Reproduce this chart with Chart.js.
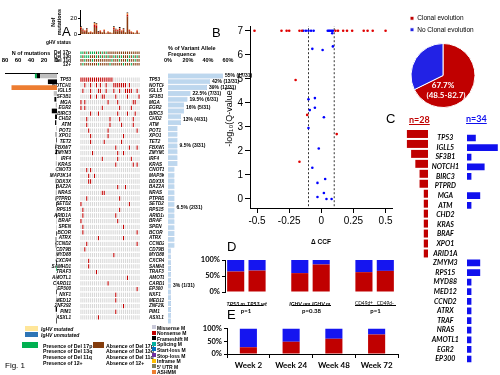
<!DOCTYPE html>
<html><head><meta charset="utf-8">
<script src="https://cdn.jsdelivr.net/npm/chart.js@4.4.0/dist/chart.umd.min.js"></script>
<style>
html,body{margin:0;padding:0;background:#fff;}
#root{position:relative;width:500px;height:375px;overflow:hidden;font-family:"Liberation Sans",Arial,sans-serif;}
canvas{position:absolute;}
.t{position:absolute;white-space:nowrap;color:#000;line-height:1;}
.b{position:absolute;}
</style></head><body><div id="root"></div>
<script>
// ---------------- DATA ----------------
const patientIds = ['P1','P2','P3','P4','P5','P6','P7','P8','P9','P10','P11','P12','P13','P14','P15','P16','P17','P18','P19','P20','P21','P22','P23','P24','P25','P26','P27','P28','P29','P30','P31'];
// mutations per patient (stacked by colour class)
const topBrown  = [6,4,3,5,2,2,2,9,8,2,3,2,4,1,2,2,1,6,4,4,5,3,5,2,22,4,2,2,1,3,1];
const topRed    = [2,1,1,1,0,1,0,3,3,1,1,0,1,0,1,0,0,2,1,1,2,1,1,0,2,1,1,0,0,1,0];
const topOrange = [1,1,1,1,1,1,1,2,2,0,1,1,1,1,1,1,1,1,1,1,1,1,1,1,2,1,1,1,1,1,1];
const topBlack  = [1,1,0,1,0,0,0,1,1,1,0,0,0,0,0,0,0,1,1,0,1,0,1,0,1,0,0,0,0,0,0];
// IGHV status: U = unmutated, M = mutated
const ighv = ['U','U','M','U','M','U','U','U','U','U','U','U','U','U','U','U','U','U','U','U','M','M','U','U','M','U','U','M','U','U','U'];
const delLabels = ['Del 17p','Del 13q','Del 11q','12+'];
const del17p = [1,1,0,1,0,1,1,1,0,1,0,1,0,1,0,0,0,0,0,0,0,0,0,0,0,0,0,0,0,0,0];
const del13q = [1,0,1,1,1,0,0,0,1,0,1,0,1,0,1,0,0,1,0,1,0,1,0,0,0,1,0,1,0,1,0];
const del11q = [0,0,1,0,0,0,1,0,0,0,0,0,0,0,0,0,1,0,0,0,1,0,0,0,1,0,0,0,1,0,0];
const tri12  = [0,1,0,0,0,0,0,0,0,1,0,0,0,0,0,1,0,0,0,0,0,0,1,0,0,0,1,0,0,0,0];
const genes = ['TP53','NOTCH1','IGLL5','SF3B1','MGA','EGR2','BIRC3','CHD2','ATM','POT1','XPO1','TET2','FBXW7','ZMYM3','IRF4','KRAS','CNOT3','MAP3K14','DDX3X','BAZ2A','NRAS','PTPRD','SETD2','RPS15','ARID1A','BRAF','SPEN','BCOR','ATRX','CCND2','CD79B','MYD88','CXCR4','SAMHD1','TRAF3','AMOTL1','CARD11','EP300','NXF1','MED12','ZNF292','PIM1','ASXL1'];
// mutated patient columns per gene
const mutCols = [
 [0,1,2,3,4,5,6,7,8,9,10,11,12,13,14,15,16],
 [17,18,19,20,21,22,23,2,5,8,10,13,25],
 [1,5,9,10,13,17,20,23,24,25,26,29],
 [5,8,11,12,18,24,30],
 [0,2,14,19,27,28],
 [0,2,11,20,26],
 [5,9,19,24,28],
 [3,15,20,27],
 [3,15,21,27],
 [4,14,29],[5,14,22],[5,12,21],[18,25,29],[6,19,22],[11,19,26],[18,27,29],
 [3,5],[4,7],[4,5],[19,23],[11,12],[3,20],[0,25],[1,20],[1,18],[0,19],[1,22],[1,29],[9,22],[3,29],
 [2],[17],[4],[4],[8],[24],[14],[29],[18],[18],[22],[18],[9]
];
// number of mutations per gene by type
const nMissense = [26,0,0,5,1,2,0,0,1,1, 1,0,1,0,1,2,1,1,1,0, 2,1,0,1,0,1,1,0,1,1, 1,1,0,0,1,1,1,0,1,1, 0,1,0];
const nTrunc    = [5,14,0,0,3,0,8,3,2,0, 1,1,1,2,0,0,0,0,1,1, 0,1,1,0,1,0,0,1,1,1, 0,0,1,0,0,0,0,1,0,0, 2,0,1];
const nSplice   = [3,0,0,0,0,0,0,0,0,0, 0,0,0,0,0,0,0,0,0,0, 0,0,0,0,0,0,0,0,0,0, 0,0,0,1,0,0,0,0,0,0, 0,0,0];
const nASHM     = [0,0,70,0,0,0,0,0,0,0, 0,0,0,0,0,0,0,0,0,0, 0,0,0,0,0,0,0,0,0,0, 0,0,0,0,0,0,0,0,0,0, 0,0,0];
const mutTicks = [0,20,40,60,80];
// variant allele frequency (%) per gene
const vaf = [55,42,39,22.5,19.5,16,16,13,13, 9.5,9.5,9.5,9.5,9.5,9.5,9.5, 6.5,6.5,6.5,6.5,6.5,6.5,6.5,6.5,6.5,6.5,6.5,6.5,6.5,6.5, 3,3,3,3,3,3,3,3,3,3,3,3,3];
const vafTicks = [0,20,40,60];
const vafLabelRows = [0,1,2,3,4,5.5,7.5,12,22.5,36];
const vafLabels = ['55% (17/31)','42% (13/31)','39% (12/31)','22.5% (7/31)','19.5% (6/31)','16% (5/31)','13% (4/31)','9.5% (3/31)','6.5% (2/31)','3% (1/31)'];
// Panel B
const clonalX = [-0.52,-0.31,-0.27,-0.25,-0.17,-0.15,0.11,0.13,0.17,0.2,0.24,0.33,0.36,0.4,0.5,-0.2,-0.11,0.12,-0.17];
const clonalY = [7,7,7,7,7,7,7,7,7,7,7,7,7,7,7,4.95,3.5,2.7,1.55];
const noClonalX = [-0.14,-0.12,-0.1,-0.08,-0.06,0.05,0.06,0.07,0.08,0.09,0.085,-0.07,0.01,0.09,-0.1,-0.05,-0.09,-0.05,0.02,-0.1,-0.02,-0.07,-0.03,0.03,0.02,-0.03,0.04,0.08];
const noClonalY = [7,7,7,7,7,7,7,7,7,7,6.9,6.25,6.2,6.35,4.15,4.2,3.7,3.8,3.4,2.95,2.1,1.3,0.67,0.83,0.25,0.08,0,0];
const cutoffs = [-0.1,0.1];
const cutoffSpan = [-0.3,7.25];
const bXTicks = [-0.5,-0.25,0,0.25,0.5];
const bYTicks = [0,1,2,3,4,5,6,7];
// Pie
const pieLabels = ['Clonal evolution','No Clonal evolution'];
const pieValues = [67.7,32.3];
const pieText = ['67.7%','(48.5-82.7)'];
// Panel C
const cGenes = ['TP53','IGLL5','SF3B1','NOTCH1','BIRC3','PTPRD','MGA','ATM','CHD2','KRAS','BRAF','XPO1','ARID1A','ZMYM3','RPS15','MYD88','MED12','CCND2','ATRX','TRAF','NRAS','AMOTL1','EGR2','EP300'];
const clonalCounts   = [5,5,4,3,2,2,1,1,1,1,1,1,1,0,0,0,0,0,0,0,0,0,0,0];
const noClonalCounts = [2,7,1,4,1,0,3,1,0,0,0,0,0,3,3,1,1,1,1,1,1,1,1,1];
// Panel D
const dLabels = ['TP53 m','TP53 wt','','IGHV um','IGHV m','','CD49d+','CD49d-'];
const dRed  = [64,67,null,59,86,null,62,66];
const dBlue = [36,33,null,41,14,null,38,34];
const dPvals = ['p=1','p=0.38','p=1'];
// Panel E
const eLabels = ['Week 2','Week 24','Week 48','Week 72'];
const eRed  = [26,48,60,76];
const eBlue = [74,52,40,24];
const pctTicks = [0,50,100];

// ---------------- HELPERS ----------------
const RED='#C00000', BLUE='#1515F0', GRAY='#D9D9D9';
Chart.defaults.font.family = "'Liberation Sans', Arial, sans-serif";
Chart.defaults.color = '#000';
Chart.defaults.animation = false;
Chart.defaults.events = [];
Chart.defaults.plugins.legend.display = false;
Chart.defaults.plugins.tooltip.enabled = false;
const root = document.getElementById('root');
function mk(x,y,w,h,cfg){
  const c=document.createElement('canvas');
  c.width=w;c.height=h;c.style.left=x+'px';c.style.top=y+'px';c.style.width=w+'px';c.style.height=h+'px';
  root.appendChild(c);
  cfg.options=Object.assign({responsive:false,maintainAspectRatio:false,devicePixelRatio:1},cfg.options||{});
  return new Chart(c,cfg);
}
function txt(s,x,y,css){const d=document.createElement('div');d.className='t';d.textContent=s;d.style.left=x+'px';d.style.top=y+'px';if(css)d.style.cssText+=css;root.appendChild(d);return d;}
function box(x,y,w,h,css){const d=document.createElement('div');d.className='b';d.style.left=x+'px';d.style.top=y+'px';d.style.width=w+'px';d.style.height=h+'px';d.style.cssText+=css;root.appendChild(d);return d;}
const tickList = arr => (s=>{s.ticks=arr.map(v=>({value:v}));});
function gridSets(rows,colorFn){
  return patientIds.map((pid,p)=>({label:pid,data:rows.map(()=>1),backgroundColor:rows.map((r,ri)=>colorFn(ri,p)),borderColor:'#fff',borderWidth:0.4,borderSkipped:false,barPercentage:1,categoryPercentage:0.9}));
}
const geneFont={size:4.6,weight:'bold',style:'italic'};

// ---------------- PANEL A ----------------
// top: mutations per patient
mk(50,0,91,39,{type:'bar',data:{labels:patientIds,datasets:[
  {data:topBrown,backgroundColor:'#8B3A0F'},{data:topRed,backgroundColor:RED},
  {data:topOrange,backgroundColor:'#ED7D31'},{data:topBlack,backgroundColor:'#000'}]},
 options:{layout:{padding:{top:10,bottom:1,right:1,left:0}},datasets:{bar:{barPercentage:0.8,categoryPercentage:1}},
  scales:{x:{stacked:true,display:false},
   y:{stacked:true,min:0,max:30,afterFit:s=>{s.width=30;},afterBuildTicks:tickList([0,10,20,30]),
      ticks:{font:{size:6},padding:1},grid:{display:true,drawOnChartArea:false,tickLength:2,color:'#000'},border:{color:'#000'},
      title:{display:true,text:['Nof','mutations'],font:{size:5.5,weight:'bold'},padding:0}}}}});
// IGHV row
mk(46,39,94,7,{type:'bar',data:{labels:['IgHV status'],datasets:gridSets(['IgHV status'],(r,p)=>ighv[p]==='U'?'#2E75B6':'#FFE699')},
 options:{indexAxis:'y',layout:{padding:0},scales:{x:{stacked:true,min:0,max:31,display:false},
  y:{stacked:true,afterFit:s=>{s.width=34;},ticks:{font:{size:4.8,weight:'bold'},padding:1,autoSkip:false},grid:{display:false},border:{display:false}}}}});
// deletion rows
const delRows=[del17p,del13q,del11q,tri12];
mk(46,47,94,23,{type:'bar',data:{labels:delLabels,datasets:gridSets(delLabels,(r,p)=>delRows[r][p]?'#00B050':'#843C0C')},
 options:{indexAxis:'y',layout:{padding:0},scales:{x:{stacked:true,min:0,max:31,display:false},
  y:{stacked:true,afterFit:s=>{s.width=34;},ticks:{font:{size:4.8,weight:'bold'},padding:1,autoSkip:false},grid:{display:false},border:{display:false}}}}});
// gene matrix
mk(46,73,118,251,{type:'bar',data:{labels:genes,datasets:gridSets(genes,(r,p)=>mutCols[r].includes(p)?RED:GRAY)},
 options:{indexAxis:'y',layout:{padding:0},scales:{x:{stacked:true,min:0,max:31,display:false},
  y:{stacked:true,afterFit:s=>{s.width=34;},ticks:{font:geneFont,padding:1,autoSkip:false},grid:{display:false},border:{display:false}},
  yR:{type:'category',labels:genes,position:'right',afterFit:s=>{s.width=24;},ticks:{font:geneFont,padding:1,autoSkip:false},grid:{display:false},border:{display:false}}}}});
// left: number of mutations per gene
mk(0,50,58,274,{type:'bar',data:{labels:genes,datasets:[
  {data:nMissense,backgroundColor:'#BFBFBF'},{data:nTrunc,backgroundColor:'#000'},
  {data:nSplice,backgroundColor:'#00B050'},{data:nASHM,backgroundColor:'#ED7D31'}]},
 options:{indexAxis:'y',layout:{padding:{left:5,right:1}},datasets:{bar:{barPercentage:0.8,categoryPercentage:1}},
  scales:{x:{stacked:true,position:'top',reverse:true,min:0,max:80,afterFit:s=>{s.height=23;},afterBuildTicks:tickList(mutTicks),
    ticks:{font:{size:6,weight:'bold'},padding:1,maxRotation:0},grid:{display:false},border:{color:'#000'},
    title:{display:true,text:'N of mutations',font:{size:5.5,weight:'bold'},padding:{top:0,bottom:2}}},
   y:{stacked:true,display:false}}}});
// right: VAF
const vafLabelPlugin={id:'vafLbl',afterDatasetsDraw(ch){const {ctx,scales:{x,y}}=ch;ctx.save();ctx.font='bold 5px "Liberation Sans"';ctx.fillStyle='#000';ctx.textBaseline='middle';
  vafLabelRows.forEach((r,i)=>{ctx.fillText(vafLabels[i],x.getPixelForValue(vaf[Math.floor(r)])+2,y.getPixelForValue(r));});ctx.restore();}};
mk(163,45,92,279,{type:'bar',data:{labels:genes,datasets:[{data:vaf,backgroundColor:'#BDD7EE',borderColor:'#8FB4DE',borderWidth:0.5}]},
 options:{indexAxis:'y',layout:{padding:{left:2,right:2}},datasets:{bar:{barPercentage:0.85,categoryPercentage:1}},
  scales:{x:{position:'top',min:0,max:85,afterFit:s=>{s.height=28;},afterBuildTicks:tickList(vafTicks),
    ticks:{callback:v=>v+'%',font:{size:5.5,weight:'bold'},padding:1,maxRotation:0},grid:{display:false},border:{display:false},
    title:{display:true,align:'start',text:['% of Variant Allele','Frequence'],font:{size:5.5,weight:'bold'},padding:{top:0,bottom:1}}},
   y:{display:false}}},plugins:[vafLabelPlugin]});

// ---------------- PANEL B ----------------
mk(220,15,180,235,{type:'scatter',data:{datasets:[
  {data:clonalX.map((x,i)=>({x,y:clonalY[i]})),backgroundColor:'#E00000',pointRadius:1.3,borderWidth:0},
  {data:noClonalX.map((x,i)=>({x,y:noClonalY[i]})),backgroundColor:'#0000FF',pointRadius:1.3,borderWidth:0},
  {type:'line',data:cutoffSpan.map(y=>({x:cutoffs[0],y})),borderColor:'#000',borderWidth:0.8,borderDash:[2,2],pointRadius:0},
  {type:'line',data:cutoffSpan.map(y=>({x:cutoffs[1],y})),borderColor:'#000',borderWidth:0.8,borderDash:[2,2],pointRadius:0}]},
 options:{layout:{padding:{top:11,right:8}},
  scales:{x:{type:'linear',min:-0.555,max:0.55,afterFit:s=>{s.height=42;},afterBuildTicks:tickList(bXTicks),
    ticks:{font:{size:10},callback:v=>String(v),padding:2,maxRotation:0},grid:{display:true,drawOnChartArea:false,tickLength:5,color:'#000'},border:{color:'#000'},
    title:{display:true,text:'Δ CCF',font:{size:6.5,weight:'bold'},padding:{top:0}}},
   y:{min:-0.375,max:7.2,afterFit:s=>{s.width=30;},afterBuildTicks:tickList(bYTicks),
    ticks:{font:{size:10},padding:2},grid:{display:true,drawOnChartArea:false,tickLength:5,color:'#000'},border:{color:'#000'},
    title:{display:true,text:'-log₁₀(Q-value)',font:{size:9}}}}}});

// ---------------- PIE ----------------
const pieTextPlugin={id:'pieTxt',afterDatasetsDraw(ch){const a=ch.getDatasetMeta(0).data[0];const ctx=ch.ctx;ctx.save();ctx.fillStyle='#fff';ctx.textAlign='center';ctx.textBaseline='middle';
  ctx.font='bold 8px Lato';ctx.fillText(pieText[0],a.x,a.y+10);ctx.fillText(pieText[1],a.x+3,a.y+20);ctx.restore();}};
mk(405,10,95,98,{type:'pie',data:{labels:pieLabels,datasets:[{data:pieValues,backgroundColor:[RED,'#2222E5'],borderColor:'#fff',borderWidth:1}]},
 options:{layout:{padding:{left:0,right:19,top:0,bottom:0}},plugins:{legend:{display:true,position:'top',align:'start',labels:{boxWidth:4,boxHeight:4,font:{size:6.5},padding:5}}}},
 plugins:[pieTextPlugin]});

// ---------------- PANEL C ----------------
mk(388,129,42,239,{type:'bar',data:{labels:cGenes,datasets:[{data:clonalCounts,backgroundColor:RED}]},
 options:{indexAxis:'y',layout:{padding:{left:2,right:2}},datasets:{bar:{barPercentage:0.8,categoryPercentage:1}},
  scales:{x:{reverse:true,min:0,max:9,display:false},y:{display:false}}}});
mk(428,129,72,239,{type:'bar',data:{labels:cGenes,datasets:[{data:noClonalCounts,backgroundColor:'#1010EE'}]},
 options:{indexAxis:'y',layout:{padding:0},datasets:{bar:{barPercentage:0.7,categoryPercentage:1}},
  scales:{x:{min:0,max:7.5,display:false},
   y:{afterFit:s=>{s.width=39;},ticks:{crossAlign:'center',autoSkip:false,font:{family:'Lato',size:7,weight:'bold',style:'italic'},padding:0},grid:{display:false},border:{display:false}}}}});

// ---------------- PANEL D ----------------
mk(190,252,210,62,{type:'bar',data:{labels:dLabels,datasets:[{data:dRed,backgroundColor:RED},{data:dBlue,backgroundColor:BLUE}]},
 options:{layout:{padding:{top:8,right:4,bottom:0}},datasets:{bar:{barPercentage:0.8,categoryPercentage:1}},
  scales:{x:{stacked:true,afterFit:s=>{s.height=22;},grid:{display:false},border:{display:false},
    ticks:{autoSkip:false,maxRotation:0,minRotation:0,padding:1,font:c=>({family:'Lato',size:c.index>=6?4.8:5.5,weight:c.index>=6?'normal':'bold',style:c.index>=6?'normal':'italic'})}},
   y:{stacked:true,min:0,max:100,afterFit:s=>{s.width=35;},afterBuildTicks:tickList(pctTicks),
    ticks:{callback:v=>v+'%',font:{family:'Lato',size:7.5,weight:'bold'},padding:2},grid:{display:true,drawOnChartArea:false,tickLength:3,color:'#000'},border:{color:'#000'}}}}});

// ---------------- PANEL E ----------------
mk(190,322,210,52,{type:'bar',data:{labels:eLabels,datasets:[{data:eRed,backgroundColor:RED},{data:eBlue,backgroundColor:BLUE}]},
 options:{layout:{padding:{top:6,right:2}},datasets:{bar:{barPercentage:0.4,categoryPercentage:1}},
  scales:{x:{stacked:true,afterFit:s=>{s.height=20;},grid:{display:true,drawOnChartArea:false,tickLength:4,color:'#000'},border:{color:'#000'},
    ticks:{autoSkip:false,maxRotation:0,padding:3,font:{family:'Lato',size:8,weight:'bold'}}},
   y:{stacked:true,min:0,max:100,afterFit:s=>{s.width=37;},afterBuildTicks:tickList(pctTicks),
    ticks:{callback:v=>v+'%',font:{family:'Lato',size:7.5,weight:'bold'},padding:2},grid:{display:true,drawOnChartArea:false,tickLength:3,color:'#000'},border:{color:'#000'}}}}});

// ---------------- TEXT / LEGENDS ----------------
const letterCss='font-size:13px;';
txt('A',62,25,letterCss);txt('B',212,26,letterCss);txt('C',386,112,letterCss);txt('D',227,240,letterCss);txt('E',227,308,letterCss);
txt('n=28',409,114,'font:bold 9px Lato;color:#C00000;text-decoration:underline;');
txt('n=34',466,113,'font:bold 9px Lato;color:#1010EE;text-decoration:underline;');
// D group underlines and p-values
[[229,263],[292,331],[355,396]].forEach((g,i)=>{box(g[0],305,g[1]-g[0],1,'background:#000;');
  const d=txt(dPvals[i],g[0],307,'font:bold 6px Lato;text-align:center;');d.style.width=(g[1]-g[0])+'px';});
// IGHV legend
const ighvLegend=['IgHV mutated','IgHV unmutated'];const ighvColors=['#FFE699','#2E75B6'];
ighvLegend.forEach((s,i)=>{box(25,326+i*6,13,5,'background:'+ighvColors[i]+';');txt(s,41,326+i*6,'font:italic bold 5px "Liberation Sans";');});
const presenceLegend=['Presence of Del 17p','Presence of Del 13q','Presence of Del 11q','Presence of 12+'];
const absenceLegend=['Absence of Del 17p','Absence of Del 13q','Absence of Del 11q','Absence of 12+'];
box(22,342,16,6,'background:#00B050;');box(93,342,11,6,'background:#843C0C;');
presenceLegend.forEach((s,i)=>txt(s,43,342.5+i*5.7,'font:bold 5.2px "Liberation Sans";'));
absenceLegend.forEach((s,i)=>txt(s,106,342.5+i*5.7,'font:bold 5.2px "Liberation Sans";'));
const mutTypes=['Missense M','Nonsense M','Frameshift M','Splicing M','Start-loss M','Stop-loss M','Inframe M',"5' UTR M",'ASHMM'];
const mutTypeColors=['#C9C9D9','#C00000','#000000','#00B0A0','#0070C0','#7030A0','#FFC000','#7F7F5F','#ED7D31'];
mutTypes.forEach((s,i)=>{box(152,325+i*5.6,4,4,'background:'+mutTypeColors[i]+';');txt(s,157,324.5+i*5.6,'font:bold 5px "Liberation Sans";');});
txt('Fig. 1',5,362,'font-size:8px;');
</script></body></html>
